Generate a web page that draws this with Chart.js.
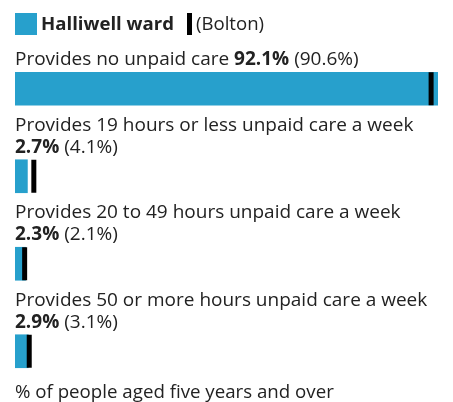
<!DOCTYPE html>
<html>
<head>
<meta charset="utf-8">
<script src="https://cdn.jsdelivr.net/npm/chart.js@4"></script>
<style>
  body { margin: 0; background: #fff; font-family: 'Open Sans', sans-serif; color: #222; }
  #wrap { position: relative; width: 453px; height: 402px; overflow: hidden; }
  canvas { display: block; }
  #legend { position: absolute; left: 15px; top: 13px; height: 22px; font-size: 18.6px; line-height: 22px; }
  #legend span { position: absolute; top: 0; white-space: nowrap; }
  .swatch { width: 22px; height: 22px; background: #27a0cc; }
  .marker { width: 5px; height: 22px; background: #000; }
  #footer { position: absolute; left: 15px; top: 380px; font-size: 18.7px; line-height: 22px; white-space: nowrap; }
</style>
</head>
<body>
<div id="wrap">
  <canvas id="chart" width="453" height="402"></canvas>
  <div id="legend">
    <span class="swatch" style="left:0"></span>
    <span style="left:26px;top:-1px;font-weight:bold">Halliwell ward</span>
    <span class="marker" style="left:172px"></span>
    <span style="left:181px;top:-1px">(Bolton)</span>
  </div>
  <div id="footer">% of people aged five years and over</div>
</div>
<script>
// Data
const categories = [
    'Provides no unpaid care',
    'Provides 19 hours or less unpaid care a week',
    'Provides 20 to 49 hours unpaid care a week',
    'Provides 50 or more hours unpaid care a week'
];
const wardValues = [92.1, 2.7, 2.3, 2.9];
const boltonValues = [90.6, 4.1, 2.1, 3.1];

const BLUE = '#27a0cc';
const TEXT = '#222';
const FONT_SIZE = 19;

// Draws the category text above each bar, wrapping the values onto a second line if needed
const labelPlugin = {
    id: 'barLabels',
    afterDraw(chart) {
        const { ctx, chartArea, scales } = chart;
        const yScale = scales.y;
        const normal = FONT_SIZE + "px 'Open Sans', sans-serif";
        const bold = 'bold ' + FONT_SIZE + "px 'Open Sans', sans-serif";
        ctx.save();
        ctx.fillStyle = TEXT;
        ctx.textBaseline = 'alphabetic';
        ctx.textAlign = 'left';
        categories.forEach((cat, i) => {
            const barTop = yScale.getPixelForValue(i) - 16.5;
            const valText = wardValues[i].toFixed(1) + '%';
            const refText = ' (' + boltonValues[i].toFixed(1) + '%)';
            ctx.font = normal;
            const catW = ctx.measureText(cat + ' ').width;
            const refW = ctx.measureText(refText).width;
            ctx.font = bold;
            const valW = ctx.measureText(valText).width;
            let x = chartArea.left;
            let y = barTop - 7;
            if (catW + valW + refW <= chartArea.right - chartArea.left) {
                ctx.font = normal;
                ctx.fillText(cat + ' ', x, y);
                x += catW;
            } else {
                ctx.font = normal;
                ctx.fillText(cat, x, y - 22);
            }
            ctx.font = bold;
            ctx.fillText(valText, x, y);
            ctx.font = normal;
            ctx.fillText(refText, x + valW, y);
        });
        ctx.restore();
    }
};

const maxValue = Math.max(...wardValues, ...boltonValues);

new Chart(document.getElementById('chart').getContext('2d'), {
    type: 'bar',
    data: {
        labels: categories,
        datasets: [
            {
                type: 'line',
                label: '(Bolton)',
                data: boltonValues,
                indexAxis: 'y',
                showLine: false,
                pointStyle: 'line',
                pointRotation: 90,
                pointRadius: 16.5,
                pointBorderWidth: 5,
                pointBorderColor: '#000',
                pointBackgroundColor: '#000',
                order: 0
            },
            {
                label: 'Halliwell ward',
                data: wardValues,
                backgroundColor: BLUE,
                barThickness: 33,
                order: 1
            }
        ]
    },
    options: {
        indexAxis: 'y',
        responsive: false,
        animation: false,
        layout: { autoPadding: false, padding: { left: 15, right: 15, top: 45, bottom: 7 } },
        scales: {
            x: { display: false, min: 0, max: maxValue },
            y: { display: false }
        },
        plugins: {
            legend: { display: false },
            tooltip: { enabled: false }
        }
    },
    plugins: [labelPlugin]
});
</script>
</body>
</html>
